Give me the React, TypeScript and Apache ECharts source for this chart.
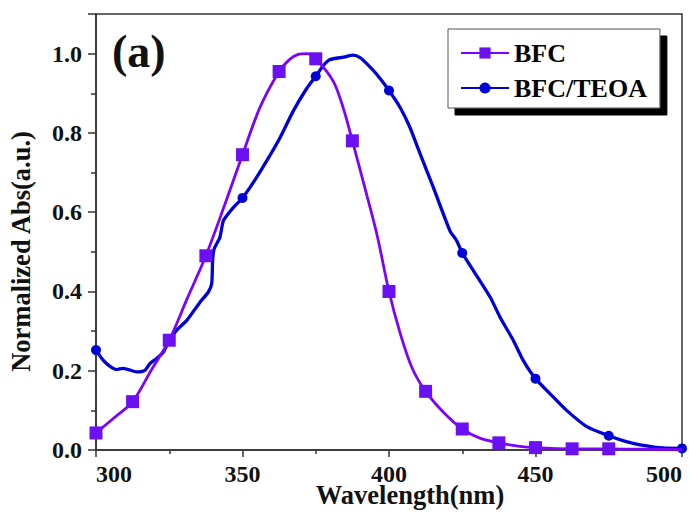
import React, { useEffect, useRef } from "react";
import * as echarts from "echarts";

// BFC (purple, square markers every 12.5 nm up to 475 nm)
const bfcWavelength = [300, 306, 312.5, 318.75, 325, 331, 337.5, 344, 350, 356, 362.5, 366, 369, 372, 375, 381, 384.5, 387.5, 392, 396, 400, 404, 408, 412.5, 418.5, 425, 431, 437.5, 444, 450, 462.5, 475, 487.5, 500];
const bfcAbs = [0.043, 0.08, 0.122, 0.2, 0.277, 0.38, 0.49, 0.62, 0.745, 0.865, 0.955, 0.985, 0.998, 1.0, 0.987, 0.93, 0.86, 0.78, 0.655, 0.54, 0.4, 0.29, 0.205, 0.148, 0.096, 0.053, 0.03, 0.018, 0.01, 0.006, 0.003, 0.003, 0.002, 0.001];
const bfcMarkerWavelength = [300, 312.5, 325, 337.5, 350, 362.5, 375, 387.5, 400, 412.5, 425, 437.5, 450, 462.5, 475];

// BFC/TEOA (blue, circle markers every 25 nm)
const teoaWavelength = [300, 302.5, 304.8, 307, 309.2, 311, 313.9, 316.7, 318.4, 320.7, 323, 325, 327.5, 331, 335.5, 338.3, 339.5, 339.8, 340.3, 342.3, 343.5, 346.9, 350, 353.7, 358.3, 362.8, 367.3, 371.9, 375, 377.6, 379.9, 384.4, 387.8, 390.1, 392.4, 395.8, 400, 403.8, 407.2, 410, 415, 420.8, 423.1, 425, 434.5, 437.9, 442.4, 445.8, 450, 456, 460.6, 467.5, 475, 481, 485.7, 493.6, 500];
const teoaAbs = [0.252, 0.226, 0.211, 0.203, 0.206, 0.203, 0.197, 0.201, 0.218, 0.231, 0.247, 0.277, 0.302, 0.327, 0.373, 0.398, 0.42, 0.478, 0.507, 0.537, 0.579, 0.612, 0.636, 0.675, 0.73, 0.788, 0.855, 0.912, 0.943, 0.97, 0.985, 0.991, 0.996, 0.99, 0.975, 0.948, 0.907, 0.864, 0.813, 0.759, 0.665, 0.553, 0.528, 0.497, 0.386, 0.335, 0.277, 0.226, 0.18, 0.134, 0.1, 0.059, 0.036, 0.021, 0.013, 0.005, 0.004];
const teoaMarkerWavelength = [300, 325, 350, 375, 400, 425, 450, 475, 500];

const seriesNames = ["BFC", "BFC/TEOA"];
const panelLabel = "(a)";
const xAxisName = "Wavelength(nm)";
const yAxisName = "Normalized Abs(a.u.)";

const SERIF = '"Liberation Serif", "Times New Roman", serif';

export default function App() {
  const ref = useRef<HTMLDivElement>(null);

  useEffect(() => {
    document.body.style.margin = "0";
    if (!ref.current) return;
    const chart = echarts.init(ref.current, undefined, { renderer: "svg" });

    const bfcData = bfcWavelength.map((w, i) => ({
      value: [w, bfcAbs[i]],
      symbol: bfcMarkerWavelength.includes(w) ? "rect" : "none",
    }));
    const teoaData = teoaWavelength.map((w, i) => ({
      value: [w, teoaAbs[i]],
      symbol: teoaMarkerWavelength.includes(w) ? "circle" : "none",
    }));

    const axisColor = "#333";
    const labelStyle = {
      fontFamily: SERIF,
      fontWeight: "bold" as const,
      fontSize: 24,
      color: "#111",
    };

    chart.setOption({
      animation: false,
      grid: {
        left: 96,
        right: 7,
        top: 14,
        bottom: 65,
        outerBoundsMode: "none",
        containLabel: false,
        show: true,
        borderColor: axisColor,
        borderWidth: 1.5,
        backgroundColor: "transparent",
      },
      xAxis: {
        type: "value",
        min: 300,
        max: 500,
        interval: 50,
        name: xAxisName,
        nameLocation: "middle",
        nameMoveOverlap: false,
        nameGap: 31,
        nameTextStyle: {
          fontFamily: SERIF,
          fontWeight: "bold",
          fontSize: 26.5,
          color: "#111",
          padding: [0, 0, 0, 42],
        },
        axisLine: { onZero: false, lineStyle: { color: axisColor, width: 1.5 } },
        axisTick: { inside: false, length: 7, lineStyle: { color: axisColor, width: 1.5 } },
        minorTick: { show: true, splitNumber: 2, length: 4, lineStyle: { color: axisColor, width: 1.5 } },
        axisLabel: { ...labelStyle, margin: 12, alignMinLabel: "left", alignMaxLabel: "right" },
        splitLine: { show: false },
      },
      yAxis: {
        type: "value",
        min: 0,
        max: 1.1,
        interval: 0.2,
        name: yAxisName,
        nameLocation: "middle",
        nameGap: 62,
        nameTextStyle: {
          fontFamily: SERIF,
          fontWeight: "bold",
          fontSize: 26.5,
          color: "#111",
          padding: [0, 39, 0, 0],
        },
        axisLine: { onZero: false, lineStyle: { color: axisColor, width: 1.5 } },
        axisTick: { inside: false, length: 8, lineStyle: { color: axisColor, width: 1.5 } },
        minorTick: { show: true, splitNumber: 2, length: 5, lineStyle: { color: axisColor, width: 1.5 } },
        axisLabel: {
          ...labelStyle,
          margin: 14,
          formatter: (v: number) => (v > 1.05 ? "" : v.toFixed(1)),
        },
        splitLine: { show: false },
      },
      legend: {
        show: true,
        orient: "vertical",
        left: 448,
        top: 29,
        padding: [9, 13, 5, 12],
        itemGap: 5,
        itemWidth: 48,
        itemHeight: 14,
        backgroundColor: "#fff",
        borderColor: "#555",
        borderWidth: 1,
        shadowColor: "#000",
        shadowBlur: 0,
        shadowOffsetX: 7,
        shadowOffsetY: 7,
        textStyle: {
          fontFamily: SERIF,
          fontWeight: "bold",
          fontSize: 26,
          color: "#000",
          lineHeight: 30,
        },
        data: seriesNames,
      },
      graphic: [
        {
          type: "text",
          left: 112,
          top: 28,
          style: {
            text: panelLabel,
            font: 'bold 46px "Liberation Serif", serif',
            fill: "#111",
          },
        },
      ],
      series: [
        {
          name: seriesNames[0],
          type: "line",
          data: bfcData,
          smooth: 0.3,
          symbol: "rect",
          symbolSize: 13,
          showAllSymbol: true,
          lineStyle: { color: "#8000FF", width: 2.8 },
          itemStyle: { color: "#6A10F2" },
          z: 3,
        },
        {
          name: seriesNames[1],
          type: "line",
          data: teoaData,
          smooth: 0.2,
          symbol: "circle",
          symbolSize: 10,
          showAllSymbol: true,
          lineStyle: { color: "#0000D8", width: 3.3 },
          itemStyle: { color: "#0000D8" },
          z: 2,
        },
      ],
    });

    return () => chart.dispose();
  }, []);

  return <div ref={ref} style={{ width: 689, height: 515 }} />;
}
